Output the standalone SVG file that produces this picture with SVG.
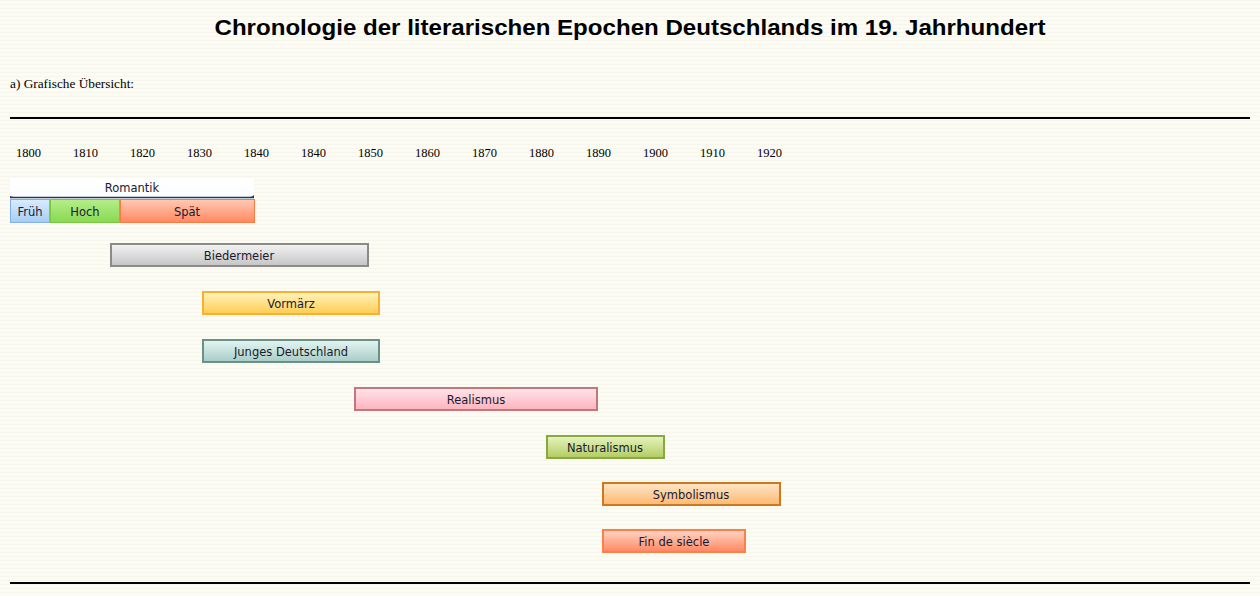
<svg xmlns="http://www.w3.org/2000/svg" width="1260" height="596" viewBox="0 0 1260 596">
<defs>
<pattern id="bg" width="4" height="4" patternUnits="userSpaceOnUse">
<rect width="4" height="4" fill="#fcfcf5"/>
<rect y="0" width="4" height="1" fill="#f6f6ec"/>
</pattern>
<linearGradient id="gGray" x1="0" y1="0" x2="0" y2="1"><stop offset="0" stop-color="#f4f4f4"/><stop offset="1" stop-color="#c4c4c4"/></linearGradient>
<linearGradient id="gYel" x1="0" y1="0" x2="0" y2="1"><stop offset="0" stop-color="#fff4c0"/><stop offset="1" stop-color="#ffcc50"/></linearGradient>
<linearGradient id="gTeal" x1="0" y1="0" x2="0" y2="1"><stop offset="0" stop-color="#e4f6f2"/><stop offset="1" stop-color="#a8ccc6"/></linearGradient>
<linearGradient id="gPink" x1="0" y1="0" x2="0" y2="1"><stop offset="0" stop-color="#ffe6ea"/><stop offset="1" stop-color="#ffb2bc"/></linearGradient>
<linearGradient id="gGreen" x1="0" y1="0" x2="0" y2="1"><stop offset="0" stop-color="#e8f4c0"/><stop offset="1" stop-color="#b0cc60"/></linearGradient>
<linearGradient id="gOrange" x1="0" y1="0" x2="0" y2="1"><stop offset="0" stop-color="#ffe6c8"/><stop offset="1" stop-color="#ffb870"/></linearGradient>
<linearGradient id="gCoral" x1="0" y1="0" x2="0" y2="1"><stop offset="0" stop-color="#ffd8c8"/><stop offset="1" stop-color="#ff8660"/></linearGradient>
<linearGradient id="gBlue" x1="0" y1="0" x2="0" y2="1"><stop offset="0" stop-color="#d8ecff"/><stop offset="1" stop-color="#a6ccf4"/></linearGradient>
<linearGradient id="gLime" x1="0" y1="0" x2="0" y2="1"><stop offset="0" stop-color="#b4ee8a"/><stop offset="1" stop-color="#88d850"/></linearGradient>
<linearGradient id="gSpaet" x1="0" y1="0" x2="0" y2="1"><stop offset="0" stop-color="#ffcab4"/><stop offset="1" stop-color="#ff8860"/></linearGradient>
<linearGradient id="gWhite" x1="0" y1="0" x2="0" y2="1"><stop offset="0" stop-color="#ffffff"/><stop offset="1" stop-color="#fafcfe"/></linearGradient>
</defs>
<style>
.title{font-family:"Liberation Sans",Arial,sans-serif;font-weight:bold;font-size:22px;fill:#000}
.serif{font-family:"Liberation Serif","Times New Roman",serif;font-size:12.5px;fill:#000}
.intro{font-family:"Liberation Serif","Times New Roman",serif;font-size:13.3px;fill:#000}
.lbl{font-family:"DejaVu Sans","Liberation Sans",sans-serif;font-size:11.5px;fill:#1a1a30;text-anchor:middle}
.rule{stroke:#000;stroke-width:2}
</style>
<rect width="1260" height="596" fill="url(#bg)"/>
<text class="title" x="630" y="35" text-anchor="middle" textLength="831" lengthAdjust="spacingAndGlyphs">Chronologie der literarischen Epochen Deutschlands im 19. Jahrhundert</text>
<text class="intro" x="10" y="88">a) Grafische Übersicht:</text>
<line class="rule" x1="10" y1="118" x2="1250" y2="118"/>
<line class="rule" x1="10" y1="583" x2="1250" y2="583"/>
<g id="years" class="serif">
<text x="16" y="157">1800</text>
<text x="73" y="157">1810</text>
<text x="130" y="157">1820</text>
<text x="187" y="157">1830</text>
<text x="244" y="157">1840</text>
<text x="301" y="157">1840</text>
<text x="358" y="157">1850</text>
<text x="415" y="157">1860</text>
<text x="472" y="157">1870</text>
<text x="529" y="157">1880</text>
<text x="586" y="157">1890</text>
<text x="643" y="157">1900</text>
<text x="700" y="157">1910</text>
<text x="757" y="157">1920</text>
</g>
<g id="romantik">
<rect x="10" y="178" width="244" height="20" fill="url(#gWhite)"/>
<path d="M10 198 L10 196 Q12 197 14 197 L250 197 Q252 197 254 195 L254 198 Z" fill="#1f3a6a"/>
<line x1="10" y1="197.5" x2="254" y2="197.5" stroke="#1f3a6a" stroke-width="1.5"/>
<text class="lbl" x="132" y="192">Romantik</text>
</g>
<g id="frueh">
<rect x="10.5" y="199.5" width="39" height="23" fill="url(#gBlue)" stroke="#80b0e4"/>
<text class="lbl" x="30" y="216">Früh</text>
</g>
<g id="hoch">
<rect x="50.5" y="199.5" width="69" height="23" fill="url(#gLime)" stroke="#78c840"/>
<text class="lbl" x="85" y="216">Hoch</text>
</g>
<g id="spaet">
<rect x="120.5" y="199.5" width="134" height="23" fill="url(#gSpaet)" stroke="#ff7a40"/>
<text class="lbl" x="187" y="216">Spät</text>
</g>
<g id="biedermeier">
<rect x="111" y="244" width="257" height="22" fill="url(#gGray)" stroke="#8a8a8a" stroke-width="2"/>
<text class="lbl" x="239" y="260">Biedermeier</text>
</g>
<g id="vormaerz">
<rect x="203" y="292" width="176" height="22" fill="url(#gYel)" stroke="#f8b030" stroke-width="2"/>
<text class="lbl" x="291" y="308">Vormärz</text>
</g>
<g id="junges">
<rect x="203" y="340" width="176" height="22" fill="url(#gTeal)" stroke="#6a9088" stroke-width="2"/>
<text class="lbl" x="291" y="356">Junges Deutschland</text>
</g>
<g id="realismus">
<rect x="355" y="388" width="242" height="22" fill="url(#gPink)" stroke="#c07880" stroke-width="2"/>
<text class="lbl" x="476" y="404">Realismus</text>
</g>
<g id="naturalismus">
<rect x="547" y="436" width="117" height="22" fill="url(#gGreen)" stroke="#8aa840" stroke-width="2"/>
<text class="lbl" x="605" y="452">Naturalismus</text>
</g>
<g id="symbolismus">
<rect x="603" y="483" width="177" height="22" fill="url(#gOrange)" stroke="#d07820" stroke-width="2"/>
<text class="lbl" x="691" y="499">Symbolismus</text>
</g>
<g id="finde">
<rect x="603" y="530" width="142" height="22" fill="url(#gCoral)" stroke="#ff7f48" stroke-width="2"/>
<text class="lbl" x="674" y="546">Fin de siècle</text>
</g>
<g id="connectors"/>
</svg>
